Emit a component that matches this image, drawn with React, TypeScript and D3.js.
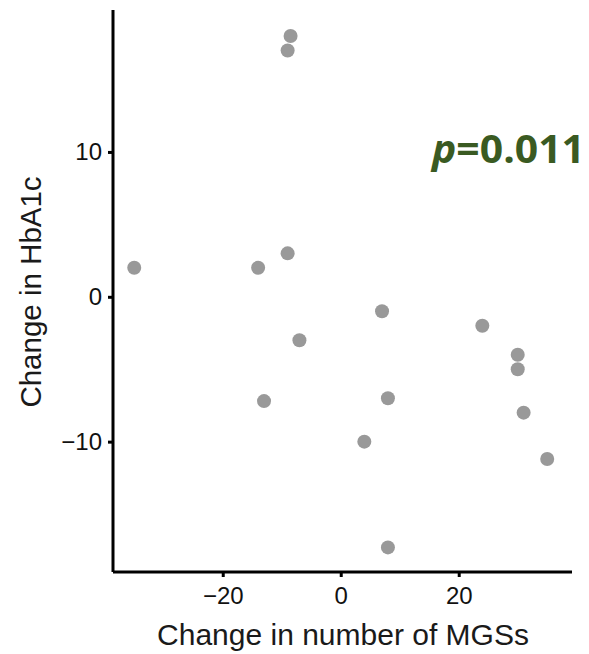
import * as d3 from 'd3';
import React, { useEffect, useRef } from 'react';

// Change in number of MGSs (x) vs change in HbA1c (y)
const mgsChange = [-8.5, -9, -35, -14, -9, -7, 7, 24, 30, 30, 31, 35, 8, 4, 8, -13];
const hba1cChange = [18, 17, 2, 2, 3, -3, -1, -2, -4, -5, -8, -11.2, -7, -10, -17.3, -7.2];
const xTicks = [-20, 0, 20];
const yTicks = [-10, 0, 10];
const pLabel = '=0.011';

const App = () => {
    const ref = useRef(null);
    const width = 589;
    const height = 654;
    const margin = { top: 10, right: 17, bottom: 82, left: 113 };
    const pointColor = '#999999';
    const font = 'Liberation Sans, Arial, sans-serif';

    useEffect(() => {
        const svg = d3.select(ref.current);
        svg.selectAll('*').remove();

        const w = width - margin.left - margin.right;
        const h = height - margin.top - margin.bottom;

        const x = d3.scaleLinear().domain([-38.6, 39.2]).range([0, w]);
        const y = d3.scaleLinear().domain([-19.0, 19.8]).range([h, 0]);

        const g = svg.append('g')
            .attr('transform', 'translate(' + margin.left + ',' + margin.top + ')');

        const fmt = (d) => d3.format('')(d).replace('-', '\u2212');

        // x axis
        const xAxis = g.append('g')
            .attr('transform', 'translate(0,' + h + ')')
            .call(d3.axisBottom(x).tickValues(xTicks).tickSize(5).tickPadding(10).tickFormat(fmt));
        xAxis.select('.domain').attr('stroke', '#000').attr('stroke-width', 3)
            .attr('d', 'M0,0H' + w);
        xAxis.selectAll('.tick line').attr('stroke-width', 3);
        xAxis.selectAll('text')
            .attr('font-family', font)
            .attr('font-size', 24)
            .attr('fill', '#111');

        // y axis
        const yAxis = g.append('g')
            .call(d3.axisLeft(y).tickValues(yTicks).tickSize(5).tickPadding(6).tickFormat(fmt));
        yAxis.select('.domain').attr('stroke', '#000').attr('stroke-width', 3)
            .attr('d', 'M0,0V' + h);
        yAxis.selectAll('.tick line').attr('stroke-width', 3);
        yAxis.selectAll('text')
            .attr('font-family', font)
            .attr('font-size', 24)
            .attr('fill', '#111');

        // axis titles
        g.append('text')
            .attr('x', 343 - margin.left)
            .attr('y', 645 - margin.top)
            .attr('text-anchor', 'middle')
            .attr('font-family', font)
            .attr('font-size', 30)
            .attr('fill', '#1a1a1a')
            .text('Change in number of MGSs');

        svg.append('text')
            .attr('transform', 'translate(41,292) rotate(-90)')
            .attr('text-anchor', 'middle')
            .attr('font-family', font)
            .attr('font-size', 29.5)
            .attr('fill', '#1a1a1a')
            .text('Change in HbA1c');

        // points
        const data = mgsChange.map((v, i) => ({ x: v, y: hba1cChange[i] }));
        g.selectAll('circle')
            .data(data)
            .enter()
            .append('circle')
            .attr('cx', (d) => x(d.x))
            .attr('cy', (d) => y(d.y))
            .attr('r', 7)
            .style('fill', pointColor);

        // p-value annotation
        const p = svg.append('text')
            .attr('x', 432)
            .attr('y', 163)
            .attr('textLength', 153)
            .attr('lengthAdjust', 'spacingAndGlyphs')
            .attr('font-family', 'Open Sans, Lato, sans-serif')
            .attr('font-weight', 'bold')
            .attr('font-size', 39)
            .attr('fill', '#3a5a22');
        p.append('tspan').attr('font-style', 'italic').text('p');
        p.append('tspan').text(pLabel);
    }, []);

    return (
        <svg ref={ref} width={width} height={height} style={{ display: 'block', position: 'absolute', left: 0, top: 0 }}>
        </svg>
    );
};

export default App;
